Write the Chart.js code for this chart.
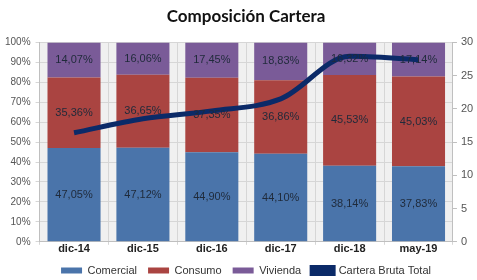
<!DOCTYPE html>
<html><head><meta charset="utf-8">
<script src="https://cdn.jsdelivr.net/npm/chart.js@4/dist/chart.umd.min.js"></script>
<style>html,body{margin:0;padding:0;background:#fff;overflow:hidden}#wrap{width:477px;height:280px;overflow:hidden}</style>
</head><body><div id="wrap"><canvas id="c" width="492" height="280"></canvas></div>
<script>
const categories = ['dic-14','dic-15','dic-16','dic-17','dic-18','may-19'];
const comercial = [47.05, 47.12, 44.90, 44.10, 38.14, 37.83];
const consumo = [35.36, 36.65, 37.35, 36.86, 45.53, 45.03];
const vivienda = [17.59, 16.23, 17.75, 19.04, 16.33, 17.14];
const viviendaLabels = ['14,07%','16,06%','17,45%','18,83%','16,32%','17,14%'];
const carteraBruta = [16.4, 18.5, 19.7, 21.5, 27.9, 27.4];
const leftTicks = [0,10,20,30,40,50,60,70,80,90,100];
const rightTicks = [0,5,10,15,20,25,30];

const fmt = v => v.toFixed(2).replace('.', ',') + '%';
const FONT = '"Liberation Sans", Arial, sans-serif';

const bgPlugin = {
  id: 'bg',
  beforeDraw(chart) {
    const {ctx, chartArea: a} = chart;
    ctx.save(); ctx.fillStyle = '#f0f0f0';
    ctx.fillRect(a.left, a.top, a.right - a.left, a.bottom - a.top);
    ctx.restore();
  }
};
const labelPlugin = {
  id: 'lbl',
  afterDatasetsDraw(chart) {
    const ctx = chart.ctx;
    ctx.save();
    ctx.font = '11px ' + FONT;
    ctx.fillStyle = '#1f2a3a';
    ctx.textAlign = 'center'; ctx.textBaseline = 'middle';
    [0,1,2].forEach(di => {
      const meta = chart.getDatasetMeta(di);
      meta.data.forEach((el, i) => {
        const y = (el.y + el.base) / 2;
        const txt = di === 2 ? viviendaLabels[i] : fmt(chart.data.datasets[di].data[i]);
        ctx.fillText(txt, el.x, y);
      });
    });
    ctx.restore();
  }
};

new Chart(document.getElementById('c'), {
  data: {
    labels: categories,
    datasets: [
      {type:'bar', label:'Comercial', data: comercial, backgroundColor:'#4a74aa', yAxisID:'y', order:2, stack:'s'},
      {type:'bar', label:'Consumo', data: consumo, backgroundColor:'#aa4441', yAxisID:'y', order:2, stack:'s'},
      {type:'bar', label:'Vivienda', data: vivienda, backgroundColor:'#7a5b98', yAxisID:'y', order:2, stack:'s'},
      {type:'line', label:'Cartera Bruta Total', data: carteraBruta, borderColor:'#0b2a68', backgroundColor:'#0b2a68', borderWidth:5, pointRadius:0, cubicInterpolationMode:'monotone', yAxisID:'y1', order:1}
    ]
  },
  options: {
    responsive:false, animation:false,
    layout:{padding:{left:0,right:0,top:0,bottom:-6}},
    datasets:{bar:{categoryPercentage:1, barPercentage:0.77}},
    plugins:{
      title:{display:true, text:'Composición Cartera', color:'#111', font:{family:'Lato, "Open Sans", sans-serif', size:17, weight:'bold'}, padding:{top:6,bottom:16}},
      legend:{position:'bottom',
        labels:{boxWidth:21, boxHeight:6, padding:11, color:'#333', font:{family:FONT, size:11},
          sort:(a,b)=>a.datasetIndex-b.datasetIndex}},
      tooltip:{enabled:false}
    },
    scales:{
      x:{stacked:true, offset:true,
        grid:{offset:true, color:'#d6d6d6', drawTicks:true, tickLength:3},
        border:{color:'#bfbfbf'},
        ticks:{color:'#222', font:{family:FONT, size:11, weight:'bold'}, padding:-2}},
      y:{stacked:true, min:0, max:100, position:'left',
        afterBuildTicks(ax){ ax.ticks = leftTicks.map(v=>({value:v})); },
        grid:{color:'#d6d6d6', tickLength:4},
        border:{color:'#bfbfbf'},
        ticks:{callback:v=>v+'%', color:'#555', font:{family:FONT, size:10}, padding:5}},
      y1:{min:0, max:30, position:'right',
        afterBuildTicks(ax){ ax.ticks = rightTicks.map(v=>({value:v})); },
        grid:{drawOnChartArea:false, color:'#bfbfbf', tickLength:4},
        border:{color:'#bfbfbf'},
        title:{display:true, text:'Billones', color:'#222', font:{family:FONT, size:9, weight:'bold'}, padding:{top:4,bottom:0}},
        ticks:{color:'#555', font:{family:FONT, size:11}, padding:4}}
    }
  },
  plugins:[bgPlugin, labelPlugin]
});
</script></body></html>
